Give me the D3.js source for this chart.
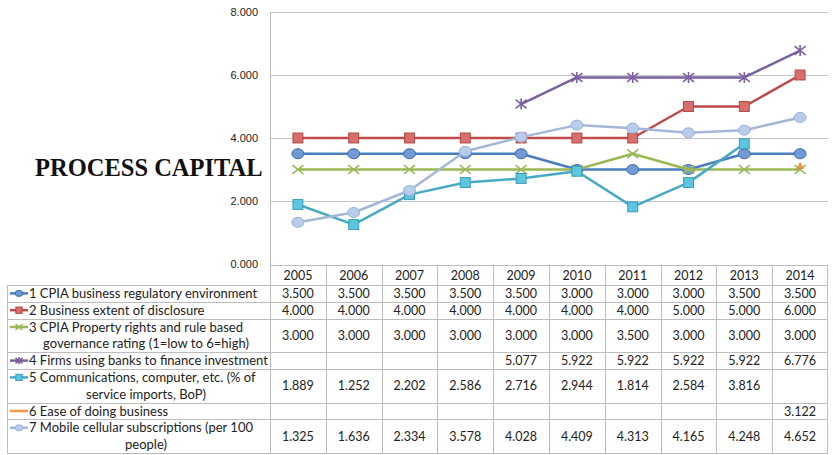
<!DOCTYPE html>
<html>
<head>
<meta charset="utf-8">
<script src="https://cdn.jsdelivr.net/npm/d3@7"></script>
<style>
	body { margin: 0; background: #fff; }
	svg { display: block; }
	text { font-family: 'Lato', 'Liberation Sans', sans-serif; fill: #222; }
</style>
</head>
<body>
<div id="chart"><svg width="833" height="455"></svg></div>
<script>
var years = ['2005', '2006', '2007', '2008', '2009', '2010', '2011', '2012', '2013', '2014'];
var yTicks = [0, 2, 4, 6, 8];

// label lines per series (wrapped the way the table shows them)
var seriesNames = [
	['1 CPIA business regulatory environment'],
	['2 Business extent of disclosure'],
	['3 CPIA Property rights and rule based', 'governance rating (1=low to 6=high)'],
	['4 Firms using banks to finance investment'],
	['5 Communications, computer, etc. (% of', 'service imports, BoP)'],
	['6 Ease of doing business'],
	['7 Mobile cellular subscriptions (per 100', 'people)']
];
var s1 = [3.5, 3.5, 3.5, 3.5, 3.5, 3.0, 3.0, 3.0, 3.5, 3.5];
var s2 = [4.0, 4.0, 4.0, 4.0, 4.0, 4.0, 4.0, 5.0, 5.0, 6.0];
var s3 = [3.0, 3.0, 3.0, 3.0, 3.0, 3.0, 3.5, 3.0, 3.0, 3.0];
var s4 = [null, null, null, null, 5.077, 5.922, 5.922, 5.922, 5.922, 6.776];
var s5 = [1.889, 1.252, 2.202, 2.586, 2.716, 2.944, 1.814, 2.584, 3.816, null];
var s6 = [null, null, null, null, null, null, null, null, null, 3.122];
var s7 = [1.325, 1.636, 2.334, 3.578, 4.028, 4.409, 4.313, 4.165, 4.248, 4.652];

var seriesValues = [s1, s2, s3, s4, s5, s6, s7];
var seriesStyle = [
	{ line: '#4A7EBB', fill: '#6F9AD3', stroke: '#3D6DA8', marker: 'circle' },
	{ line: '#BE4B48', fill: '#D7706D', stroke: '#B24744', marker: 'square' },
	{ line: '#98B954', fill: 'none', stroke: '#9BBB59', marker: 'x' },
	{ line: '#7D60A0', fill: 'none', stroke: '#7D60A0', marker: 'star' },
	{ line: '#46AAC5', fill: '#5CC6E0', stroke: '#3A9CB6', marker: 'square' },
	{ line: '#F79646', fill: '#F79646', stroke: '#E0822F', marker: 'triangle' },
	{ line: '#A4B7D9', fill: '#B8CCEB', stroke: '#9AB0D8', marker: 'circle' }
];

var svg = d3.select('#chart > svg');
var plot = { left: 270, right: 828, top: 12, bottom: 264 };

var xScale = d3.scaleBand().domain(years).range([plot.left, plot.right]);
var yScale = d3.scaleLinear().domain([0, 8]).range([plot.bottom, plot.top]);
var xc = function(i) { return xScale(years[i]) + xScale.bandwidth() / 2; };

// title
svg.append('text')
	.attr('x', 35).attr('y', 176)
	.style('font-family', "'Liberation Serif', 'Times New Roman', serif")
	.style('font-weight', 'bold')
	.style('font-size', '24.5px')
	.style('fill', '#111')
	.text('PROCESS CAPITAL');

// grid + y axis
var grid = svg.append('g');
grid.selectAll('line.grid')
	.data(yTicks.filter(function(d) { return d > 0; }))
	.enter().append('line')
	.attr('x1', plot.left).attr('x2', plot.right)
	.attr('y1', function(d) { return yScale(d) + 0.5; })
	.attr('y2', function(d) { return yScale(d) + 0.5; })
	.attr('stroke', '#C4C4C4').attr('stroke-width', 1);
grid.append('line')
	.attr('x1', plot.left + 0.5).attr('x2', plot.left + 0.5)
	.attr('y1', plot.top).attr('y2', plot.bottom + 1)
	.attr('stroke', '#BDBDBD');

var yAxis = svg.append('g')
	.attr('transform', 'translate(' + plot.left + ',0)')
	.call(d3.axisLeft(yScale).tickValues(yTicks).tickSize(0).tickPadding(12)
		.tickFormat(d3.format('.3f')));
yAxis.select('.domain').remove();
yAxis.selectAll('text').style('font-size', '11px').style('fill', '#222')
	.style('font-family', "'Liberation Sans', sans-serif");

// table
var lineH = 16.8;
var headTop = plot.bottom + 1, headH = 20;
var rowTops = [];
var t = headTop + headH;
seriesNames.forEach(function(n) { rowTops.push(t); t += lineH * n.length; });
var tableBottom = t;
var labelLeft = 7;

var table = svg.append('g');
var border = '#BDBDBD';
// horizontal lines
table.append('line')
	.attr('x1', plot.left).attr('x2', plot.right)
	.attr('y1', headTop + 0.5).attr('y2', headTop + 0.5)
	.attr('stroke', border);
rowTops.concat([tableBottom]).forEach(function(y) {
	table.append('line')
		.attr('x1', labelLeft).attr('x2', plot.right)
		.attr('y1', Math.round(y) + 0.5).attr('y2', Math.round(y) + 0.5)
		.attr('stroke', border);
});
// vertical lines
years.forEach(function(y) {
	var x = Math.round(xScale(y)) + 0.5;
	table.append('line')
		.attr('x1', x).attr('x2', x)
		.attr('y1', headTop).attr('y2', tableBottom)
		.attr('stroke', border);
});
table.append('line')
	.attr('x1', plot.right - 0.5).attr('x2', plot.right - 0.5)
	.attr('y1', headTop).attr('y2', tableBottom).attr('stroke', border);
table.append('line')
	.attr('x1', labelLeft + 0.5).attr('x2', labelLeft + 0.5)
	.attr('y1', rowTops[0]).attr('y2', tableBottom).attr('stroke', border);

// header years
table.selectAll('text.year')
	.data(years).enter().append('text')
	.attr('class', 'year')
	.attr('x', function(d, i) { return xc(i); })
	.attr('y', headTop + headH / 2 + 4.5)
	.attr('text-anchor', 'middle')
	.style('font-size', '12.5px')
	.text(function(d) { return d; });

function drawMarker(g, type, st, size) {
	var r = size / 2;
	if (type === 'circle') {
		g.append('ellipse').attr('rx', r + 0.5).attr('ry', r - 0.5)
			.attr('fill', st.fill).attr('stroke', st.stroke).attr('stroke-width', 1);
	} else if (type === 'square') {
		r = r * 0.9;
		g.append('rect').attr('x', -r).attr('y', -r).attr('width', 2 * r).attr('height', 2 * r)
			.attr('fill', st.fill).attr('stroke', st.stroke).attr('stroke-width', 1);
	} else if (type === 'x') {
		g.append('path').attr('d', 'M' + -r + ',' + -r * 0.8 + 'L' + r + ',' + r * 0.8 + 'M' + -r + ',' + r * 0.8 + 'L' + r + ',' + -r * 0.8)
			.attr('stroke', st.stroke).attr('stroke-width', 1.6).attr('fill', 'none');
	} else if (type === 'star') {
		g.append('path').attr('d', 'M' + -r + ',' + -r * 0.8 + 'L' + r + ',' + r * 0.8 + 'M' + -r + ',' + r * 0.8 + 'L' + r + ',' + -r * 0.8 + 'M0,' + -r + 'L0,' + r)
			.attr('stroke', st.stroke).attr('stroke-width', 1.6).attr('fill', 'none');
	} else if (type === 'triangle') {
		g.append('path').attr('d', 'M0,' + -r + 'L' + r + ',' + r + 'L' + -r + ',' + r + 'Z')
			.attr('fill', st.fill).attr('stroke', st.stroke).attr('stroke-width', 0.8);
	}
}

// label cells with legend keys
seriesNames.forEach(function(lines, si) {
	var st = seriesStyle[si];
	var top = rowTops[si];
	var values = seriesValues[si];
	var h = lineH * lines.length;
	var firstY = top + lineH / 2;
	var key = table.append('g');
	key.append('line').attr('x1', 10).attr('x2', 28)
		.attr('y1', firstY).attr('y2', firstY)
		.attr('stroke', st.line).attr('stroke-width', 2.5);
	if (si !== 5) {
		var m = key.append('g').attr('transform', 'translate(19,' + firstY + ')');
		drawMarker(m, st.marker, st, 7);
	}
	lines.forEach(function(txt, li) {
		table.append('text')
			.attr('x', li === 0 ? 29 : 146)
			.attr('y', top + lineH * li + lineH / 2 + 4.5)
			.attr('text-anchor', li === 0 ? 'start' : 'middle')
			.style('font-size', '13px')
			.text(txt);
	});
	values.forEach(function(v, i) {
		if (v === null) return;
		table.append('text')
			.attr('x', xc(i))
			.attr('y', top + h / 2 + 4.5)
			.attr('text-anchor', 'middle')
			.style('font-size', '12.5px')
			.text(d3.format('.3f')(v));
	});
});

// lines and markers
var lineGen = d3.line()
	.defined(function(d) { return d !== null; })
	.x(function(d, i) { return xc(i); })
	.y(function(d) { return yScale(d); });

var series = svg.append('g').selectAll('g.series')
	.data(seriesValues).enter().append('g').attr('class', 'series');
series.append('path')
	.attr('d', function(d) { return lineGen(d); })
	.attr('fill', 'none')
	.attr('stroke', function(d, i) { return seriesStyle[i].line; })
	.attr('stroke-width', 2.5)
	.attr('stroke-linejoin', 'round');
series.each(function(vals, si) {
	var g = d3.select(this);
	vals.forEach(function(v, i) {
		if (v === null) return;
		var m = g.append('g').attr('transform', 'translate(' + xc(i) + ',' + yScale(v) + ')');
		drawMarker(m, seriesStyle[si].marker, seriesStyle[si], si === 5 ? 6 : 11);
	});
});
</script>
</body>
</html>
